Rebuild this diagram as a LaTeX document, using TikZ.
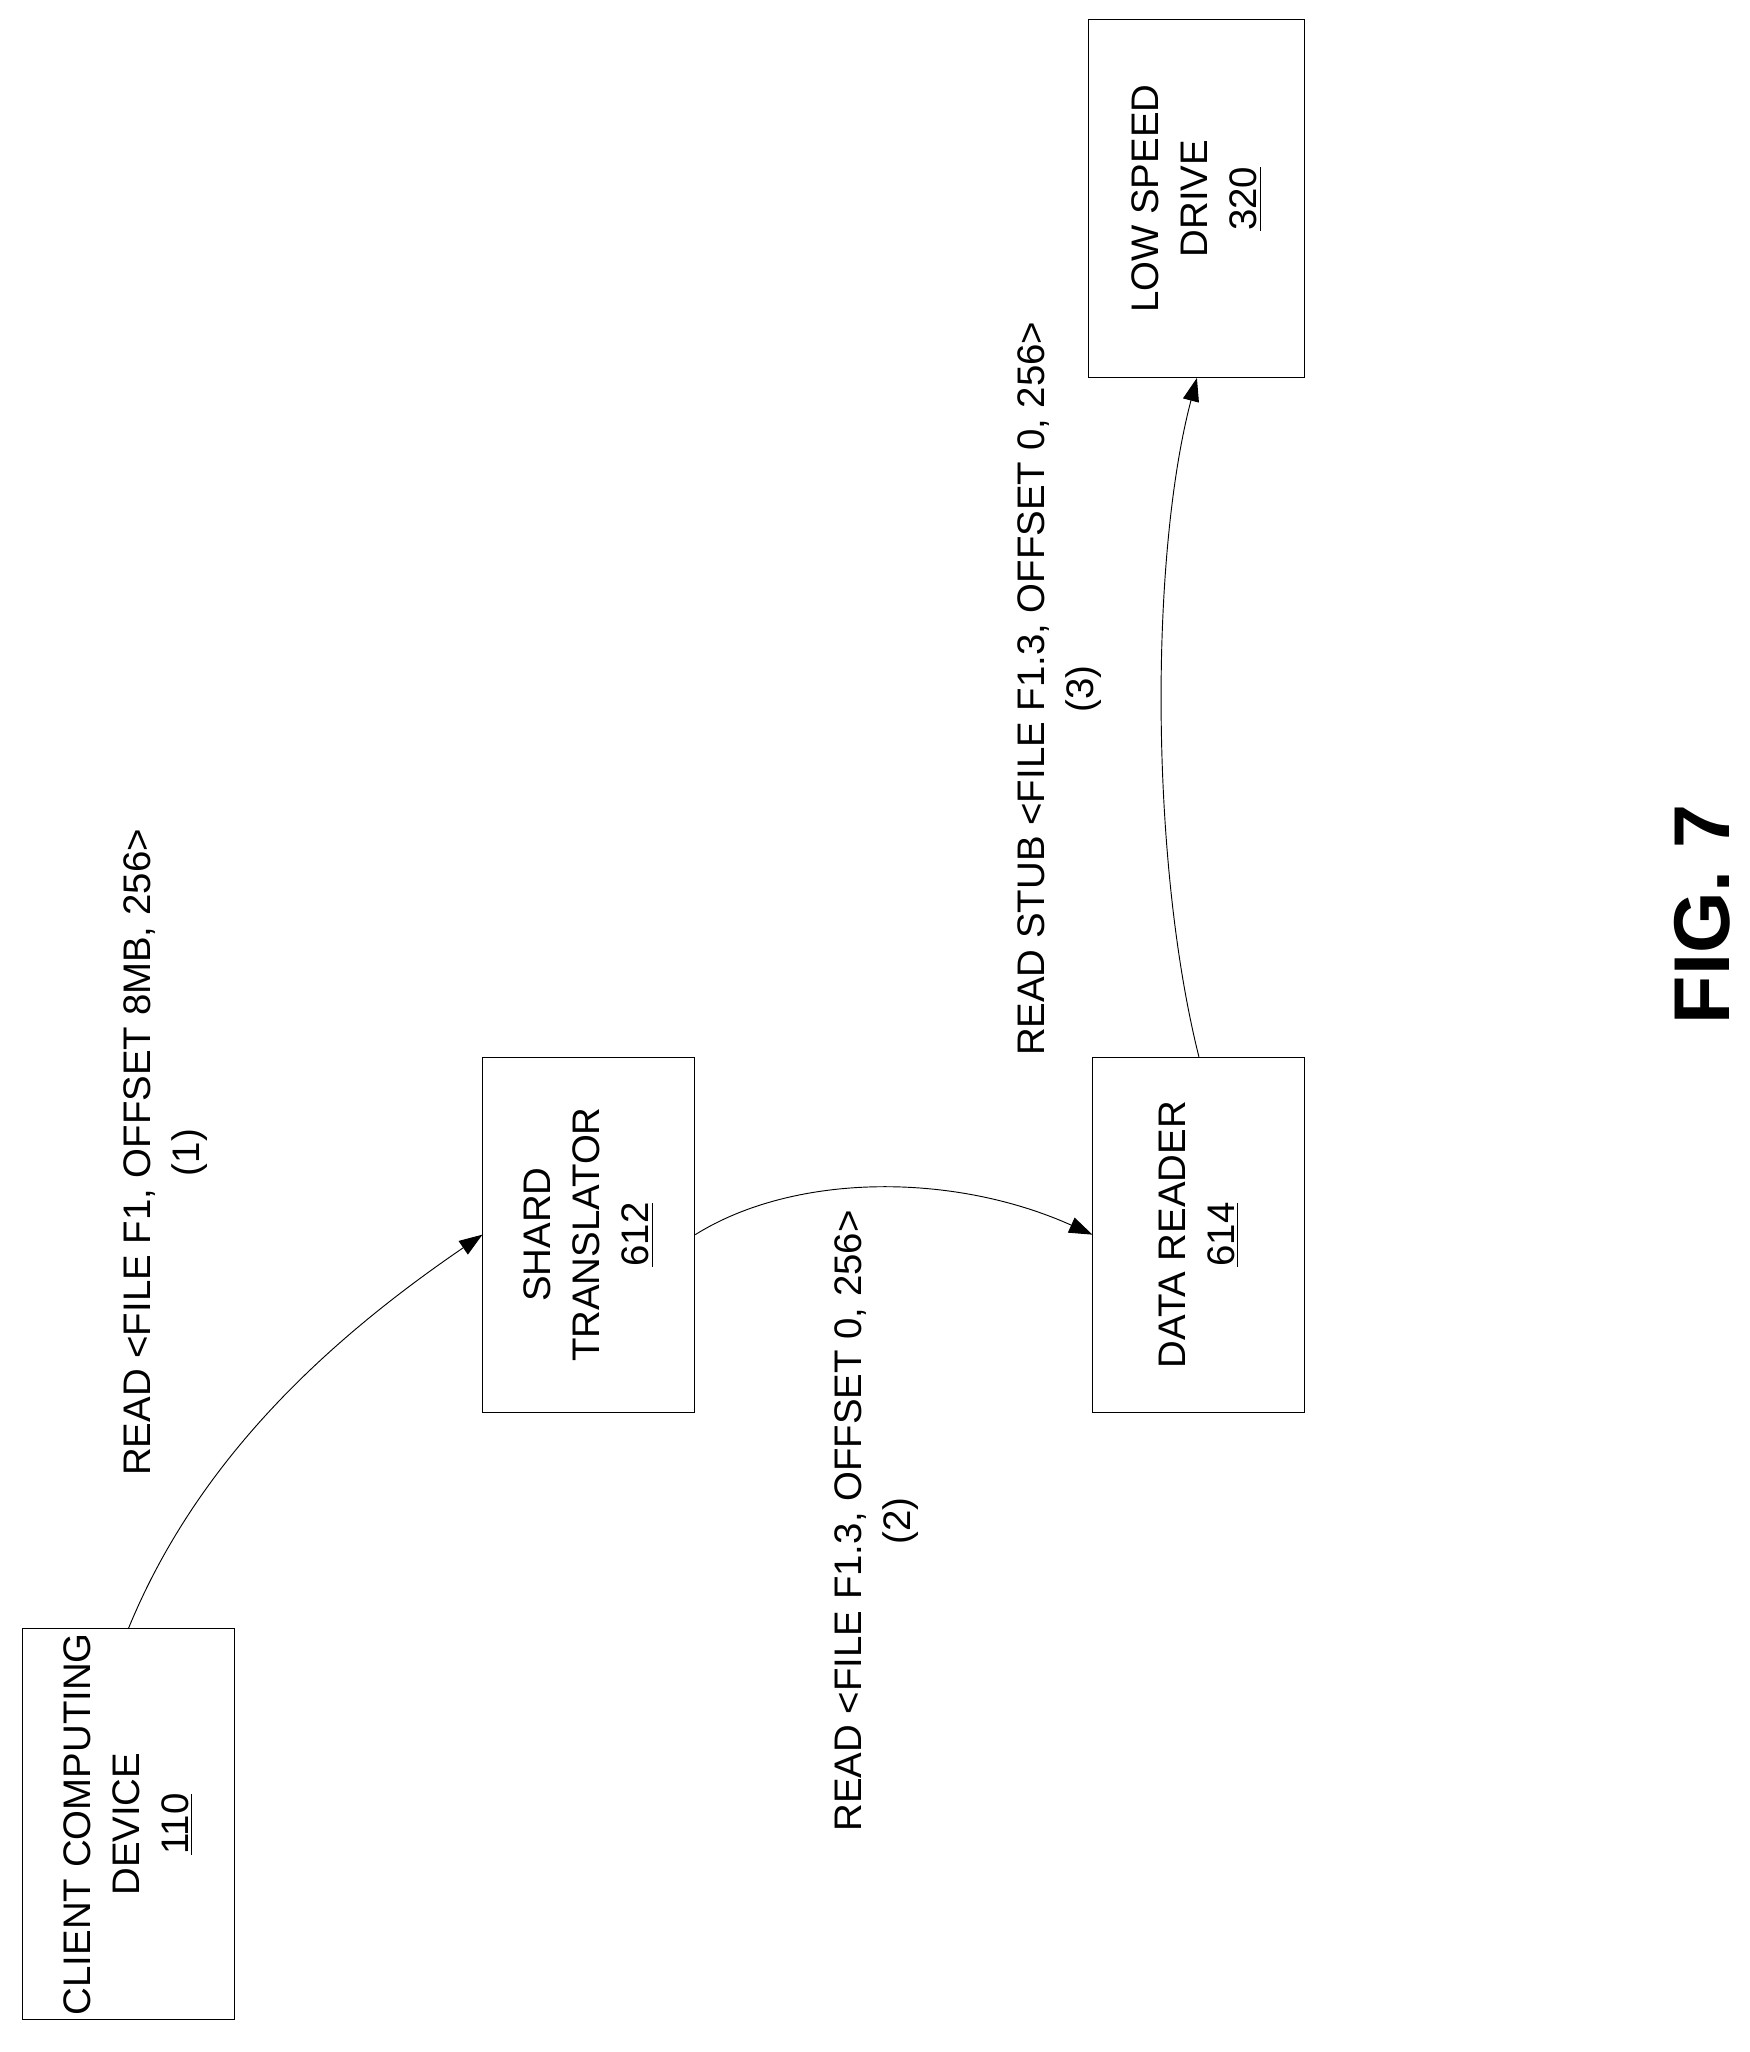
\documentclass[tikz,border=0pt]{standalone}
\usepackage{fontspec}
\setmainfont{Liberation Sans}
\usetikzlibrary{arrows.meta}

\begin{document}
\begin{tikzpicture}[x=0.02cm, y=-0.02cm, thin,
        every node/.style={font=\fontsize{16.5}{21}\selectfont, inner sep=1pt},
        box/.style={draw, minimum width=3.2cm, inner sep=0pt},
        vtext/.style={rotate=90, align=center},
        flow/.style={-{Triangle[length=10pt, width=7pt]}}]
        \useasboundingbox (0,0) rectangle (1321,1549);

        % Define boxes
        \node[box, minimum height=5.9cm] (client) at (97,1377) {};
        \node[box, minimum height=5.36cm] (shard) at (444.5,932) {};
        \node[box, minimum height=5.36cm] (reader) at (905,932) {};
        \node[box, minimum height=5.4cm, minimum width=3.26cm] (drive) at (903.5,150) {};

        % Box texts
        \node[vtext] at (client) {CLIENT COMPUTING\\DEVICE\\\underline{110}};
        \node[vtext] at (shard) {SHARD\\TRANSLATOR\\\underline{612}};
        \node[vtext] at (reader) {DATA READER\\\underline{614}};
        \node[vtext] at (drive) {LOW SPEED\\DRIVE\\\underline{320}};

        % Draw requests
        \draw[flow] (client.north) .. controls (150,1100) and (250,1010) .. (shard.west);
        \draw[flow] (shard.east) .. controls (600,885) and (720,885) .. (reader.west);
        \draw[flow] (reader.north) .. controls (868,650) and (868,420) .. (drive.south);

        % Request labels
        \node[vtext] (lbl1) at (125,870) {READ <FILE F1, OFFSET 8MB, 256>\\(1)};
        \node[vtext] (lbl2) at (662,1148) {READ <FILE F1.3, OFFSET 0, 256>\\(2)};
        \node[vtext] (lbl3) at (800,520) {READ STUB <FILE F1.3, OFFSET 0, 256>\\(3)};

        % Figure caption
        \node[rotate=90, font=\fontsize{34}{40}\selectfont\bfseries] (fig) at (1285,690) {FIG. 7};
    \end{tikzpicture}
\end{document}
